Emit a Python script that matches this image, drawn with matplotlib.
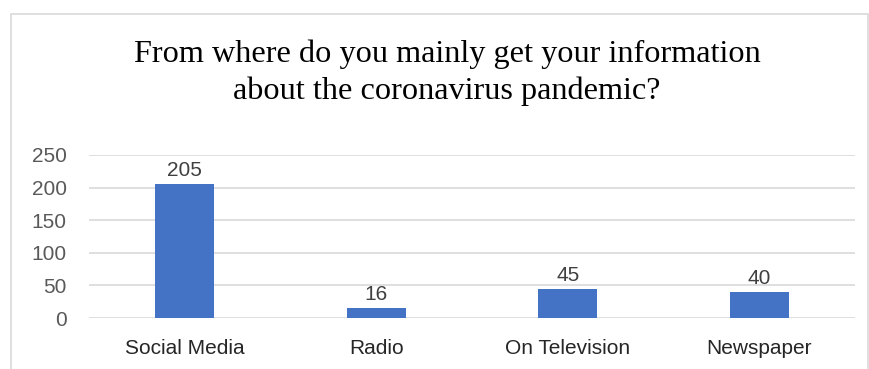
import matplotlib.pyplot as plt
from matplotlib.patches import Rectangle

categories = ['Social Media', 'Radio', 'On Television', 'Newspaper']
counts = [205, 16, 45, 40]
yticks = [0, 50, 100, 150, 200, 250]
title = 'From where do you mainly get your information\nabout the coronavirus pandemic?'

W, H = 869, 369
fig = plt.figure(figsize=(W / 100, H / 100), dpi=100)

# outer chart frame (bottom runs past the image edge)
fig.patches.append(Rectangle((11 / W, -0.05), (868 - 11) / W, 1.05 - 14 / H,
                             transform=fig.transFigure, fill=False,
                             edgecolor='#d9d9d9', linewidth=1.2))

fig.text(447 / W, 1 - 73 / H, title, ha='center', va='center',
         family='Liberation Serif', fontsize=23.2, linespacing=1.32, color='black')

# plot area in pixels: x 89..855, y 155..318
ax = fig.add_axes([89 / W, 1 - 318 / H, (855 - 89) / W, (318 - 155) / H])
x = range(len(categories))
bars = ax.bar(x, counts, width=0.31, color='#4472C4', zorder=3)
for b, v in zip(bars, counts):
    ax.text(b.get_x() + b.get_width() / 2, v + 6, str(v), ha='center', va='bottom',
            family='Liberation Sans', fontsize=15, color='#404040')

ax.set_xlim(-0.5, len(categories) - 0.5)
ax.set_ylim(0, 250)
ax.set_yticks(yticks)
ax.set_yticklabels([str(t) for t in yticks], family='Liberation Sans',
                   fontsize=15, color='#595959')
ax.set_xticks(list(x))
ax.set_xticklabels(categories, family='Liberation Sans', fontsize=15, color='#262626')
ax.tick_params(axis='both', length=0)
ax.tick_params(axis='y', pad=16)
ax.tick_params(axis='x', pad=15)
ax.grid(axis='y', color='#d9d9d9', linewidth=1.2, zorder=0)
for s in ax.spines.values():
    s.set_visible(False)

fig.savefig('out.png', dpi=100)
